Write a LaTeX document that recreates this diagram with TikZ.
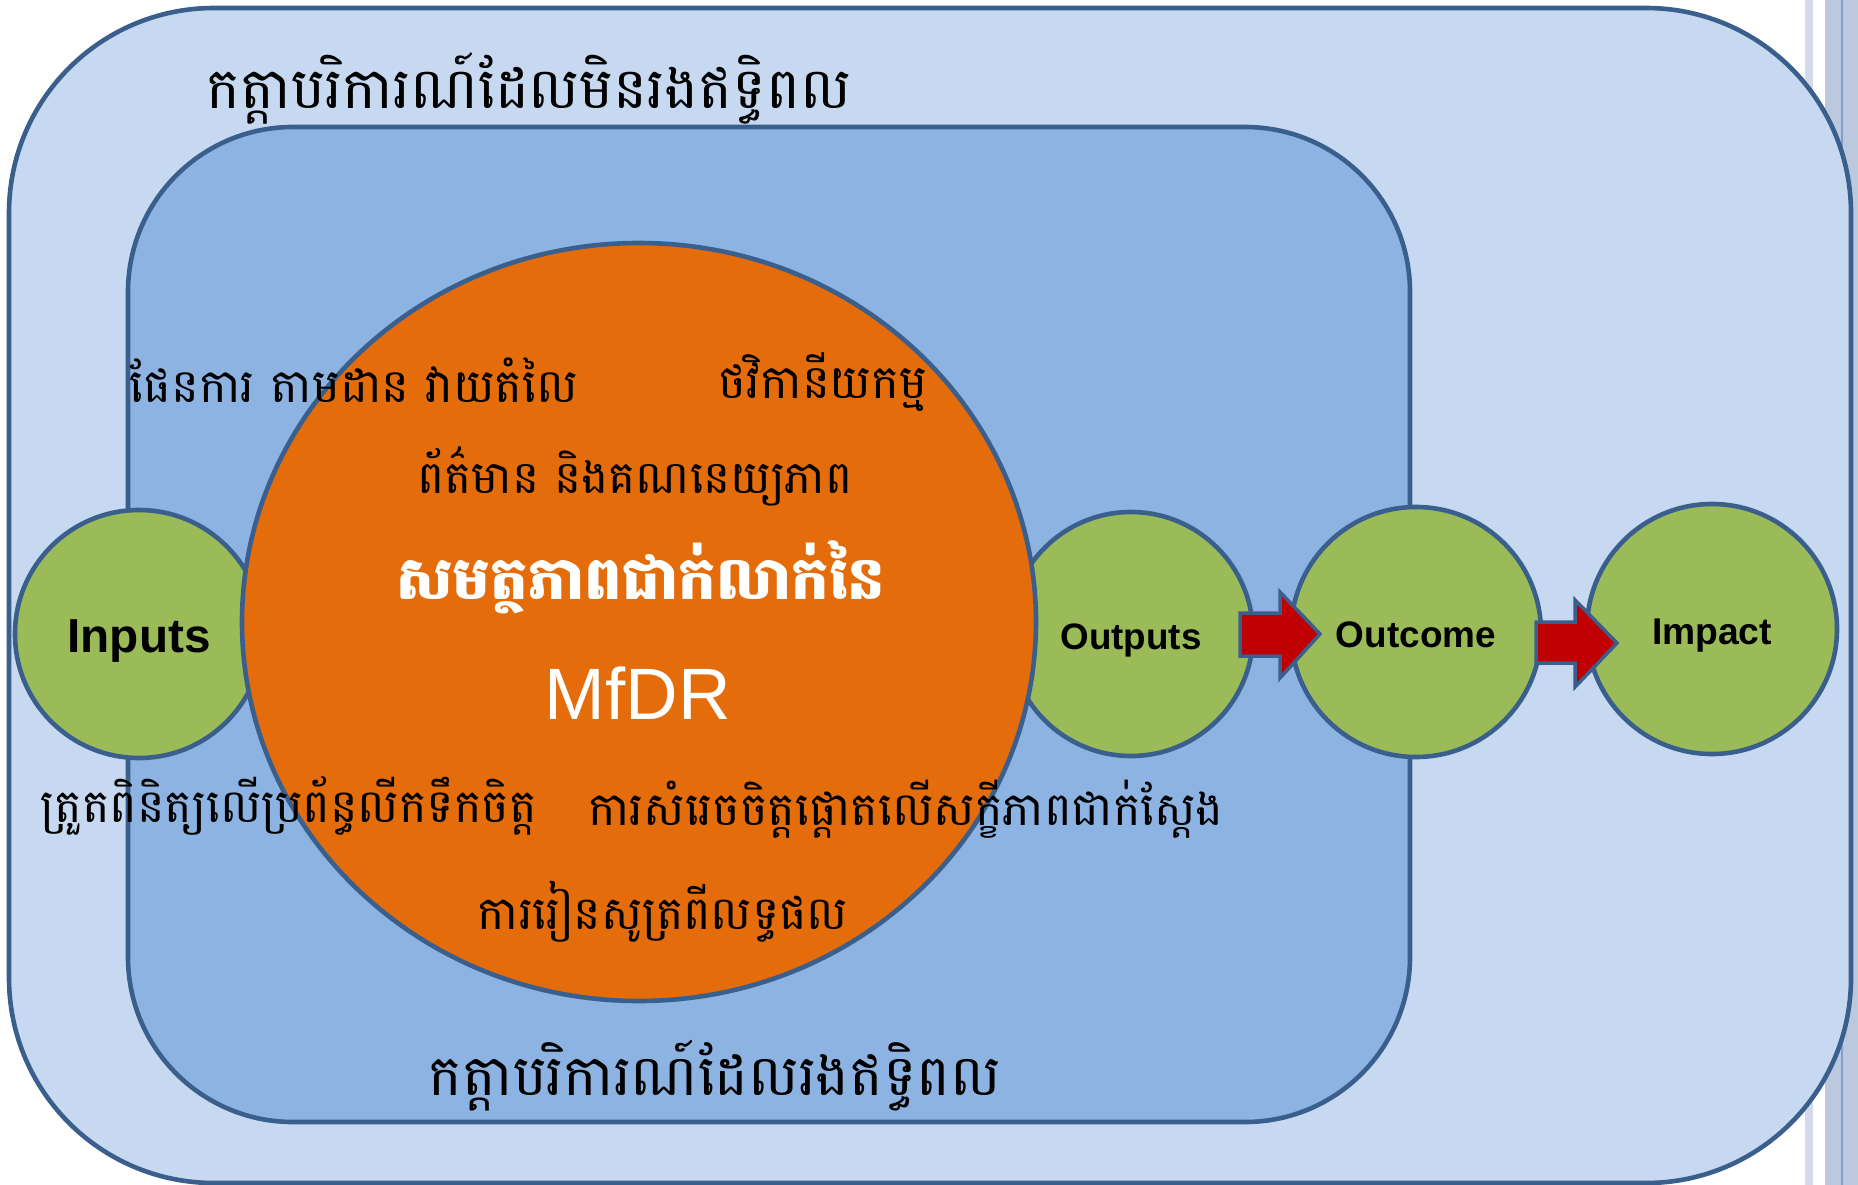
\documentclass[tikz,border=0pt]{standalone}
\usepackage{fontspec}
\usepackage{graphicx}
\usetikzlibrary{shapes.geometric}
\setmainfont{Liberation Sans}
\newfontfamily\khmer[Script=Khmer]{Battambang}
\definecolor{outerfill}{HTML}{C6D9F1}
\definecolor{innerfill}{HTML}{8DB3E2}
\definecolor{edge}{HTML}{3A5F8C}
\definecolor{orangefill}{HTML}{E46C0A}
\definecolor{greenfill}{HTML}{9BBB59}
\definecolor{arrowred}{HTML}{C00000}
\definecolor{stripe}{HTML}{D3DBEA}
\definecolor{band}{HTML}{BCC8DE}
\definecolor{bandline}{HTML}{7F9FCF}
\newcommand\fitw[2]{\resizebox{#1}{!}{#2}}
\begin{document}
\begin{tikzpicture}[x=1pt,y=-1pt,
  frame/.style={draw=edge,line width=4.6pt},
  greencirc/.style={circle,frame,fill=greenfill,inner sep=0pt},
  lbl/.style={inner sep=0pt,font=\bfseries,text=black},
  blockarrow/.style={draw=edge,line width=3.5pt,fill=arrowred,line join=miter},
  ktext/.style={inner sep=0pt,font=\khmer,text=black},
]
\useasboundingbox (0,0) rectangle (1858,1185);
\fill[white] (0,0) rectangle (1858,1185);
\fill[stripe] (1805,0) rectangle (1813,1185);
\fill[band] (1825,0) rectangle (1858,1185);
\draw[bandline,line width=2pt] (1842,0) -- (1842,1185);

\draw[frame,fill=outerfill,rounded corners=205pt] (9,8) rectangle (1851,1183);
\draw[frame,fill=innerfill,rounded corners=165pt] (128,127) rectangle (1410,1122);

\node[greencirc,minimum size=248pt] (inputs) at (139,634) {};
\node[greencirc,minimum size=244pt] (outputs) at (1131,634) {};
\node[greencirc,minimum size=250pt] (outcome) at (1416,632) {};
\node[greencirc,minimum size=250pt] (impact) at (1712,629) {};

\node[lbl,yshift=-7pt] (inputslbl) at (inputs.center) {\fitw{143pt}{Inputs}};
\node[lbl,yshift=-6pt] (outputslbl) at (outputs.center) {\fitw{141pt}{Outputs}};
\node[lbl,yshift=-3pt] (outcomelbl) at (outcome.center) {\fitw{160pt}{Outcome}};
\node[lbl,yshift=-7pt] (impactlbl) at (impact.center) {\fitw{120pt}{Impact}};

\node[ellipse,frame,fill=orangefill,minimum width=794pt,minimum height=758pt] (core) at (639,622) {};

\draw[blockarrow] (1240,613) -- (1280,613) -- (1280,592) -- (1320,634) -- (1280,678) -- (1280,656) -- (1240,656) -- cycle;
\draw[blockarrow] (1536,622) -- (1575,622) -- (1575,600) -- (1617,643) -- (1575,687) -- (1575,663) -- (1536,663) -- cycle;

\node[ktext] (toptitle) at (529,89) {\fitw{644pt}{កត្តាបរិការណ៍ដែលមិនរងឥទ្ធិពល}};
\node[ktext] (bottitle) at (715,1076) {\fitw{572pt}{កត្តាបរិការណ៍ដែលរងឥទ្ធិពល}};
\node[ktext] (plan) at (354,380) {\fitw{448pt}{ផែនការ តាមដាន វាយតំលៃ}};
\node[ktext] (budget) at (823,382) {\fitw{209pt}{ថវិកានីយកម្ម}};
\node[ktext] (info) at (635,476) {\fitw{435pt}{ព័ត៌មាន និងគណនេយ្យភាព}};
\node[ktext,text=white,font=\khmer\bfseries] (capacity) at (641,577) {\fitw{489pt}{សមត្ថភាពជាក់លាក់នៃ}};
\node[inner sep=0pt,text=white] (mfdr) at (638,693) {\fitw{186pt}{MfDR}};
\node[ktext] (monitor) at (289,806) {\fitw{496pt}{ត្រួតពិនិត្យលើប្រព័ន្ធលីកទឹកចិត្ត}};
\node[ktext] (decision) at (906,809) {\fitw{635pt}{ការសំរេចចិត្តផ្តោតលើសក្ខីភាពជាក់ស្តែង}};
\node[ktext] (learning) at (663,912) {\fitw{370pt}{ការរៀនសូត្រពីលទ្ធផល}};
\end{tikzpicture}
\end{document}
